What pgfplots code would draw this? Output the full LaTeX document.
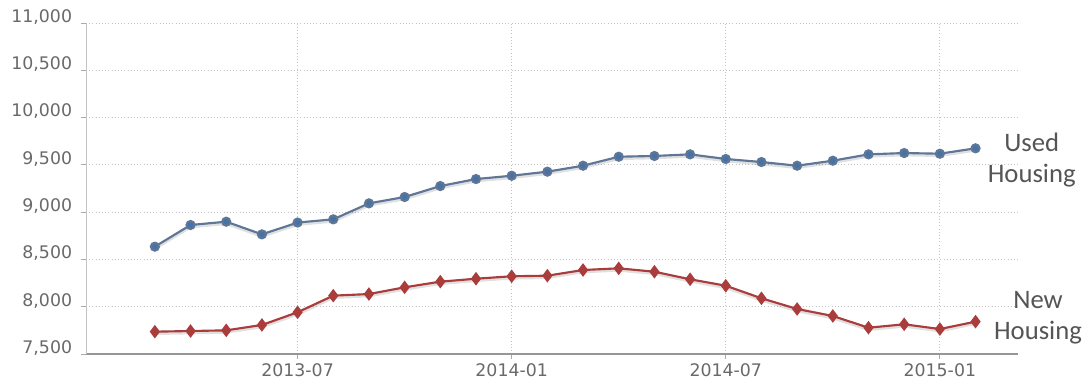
\documentclass[border=0pt]{standalone}
\usepackage{pgfplots}
\pgfplotsset{compat=1.18}
\usepackage{pgfplotstable}
\usepackage{fontspec}
\setmainfont{DejaVu Sans}
\newfontfamily\labelfont{Carlito}
\definecolor{usedblue}{RGB}{69,114,167}
\definecolor{usedline}{RGB}{95,118,150}
\definecolor{newred}{RGB}{170,60,60}
\definecolor{ticktext}{RGB}{105,105,105}
\definecolor{gridc}{RGB}{195,195,195}
\definecolor{labelgray}{RGB}{85,85,85}

\pgfplotstableread{
m v
2 8635
3 8864
4 8899
5 8765
6 8890
7 8924
8 9093
9 9160
10 9276
11 9350
12 9385
13 9428
14 9491
15 9586
16 9594
17 9611
18 9562
19 9530
20 9491
21 9544
22 9611
23 9625
24 9618
25 9675
}\usedtable

\pgfplotstableread{
m v
2 7736
3 7743
4 7750
5 7807
6 7941
7 8117
8 8134
9 8205
10 8265
11 8296
12 8322
13 8328
14 8388
15 8406
16 8370
17 8290
18 8222
19 8089
20 7976
21 7902
22 7778
23 7814
24 7764
25 7842
}\newtable

\begin{document}
\begin{tikzpicture}
\path[use as bounding box] (0,0) rectangle (817.5pt,284.25pt);
\begin{axis}[
  at={(64.5pt,18.75pt)}, anchor=south west,
  scale only axis,
  width=699pt, height=248.25pt,
  xmin=0.07, xmax=26.19,
  ymin=7500, ymax=11000,
  ytick={7500,8000,8500,9000,9500,10000,10500,11000},
  scaled y ticks=false,
  xtick={6,12,18,24},
  xticklabels={2013-07,2014-01,2014-07,2015-01},
  axis x line*=bottom,
  axis y line*=left,
  x axis line style={draw={rgb,255:red,150;green,150;blue,150}, line width=0.8pt},
  y axis line style={draw={rgb,255:red,195;green,195;blue,195}, line width=0.6pt},
  tick align=outside,
  major tick length=3.75pt,
  tick style={draw={rgb,255:red,170;green,170;blue,170}, line width=0.6pt},
  grid=major,
  major grid style={draw=gridc, dotted, line width=0.7pt},
  ticklabel style={font=\fontsize{13}{15}\selectfont, text=ticktext},
  yticklabel style={anchor=east, inner sep=0pt, xshift=-6.5pt, yshift=4.5pt,
    /pgf/number format/.cd, fixed, precision=0, 1000 sep={,}, assume math mode=true},
  xticklabel style={anchor=north, inner sep=0pt, yshift=-3.5pt},
]
\addplot[black, opacity=0.12, line width=3pt, no markers, yshift=-1pt, forget plot] table[x=m,y=v] {\usedtable};
\addplot[black, opacity=0.12, line width=3pt, no markers, yshift=-1pt, forget plot] table[x=m,y=v] {\newtable};
\addplot[usedline, line width=1.6pt, mark=*, mark size=3pt,
  mark options={fill=usedblue, draw=none}] table[x=m,y=v] {\usedtable};
\addplot[newred, line width=1.6pt, mark=diamond*, mark size=3.8pt,
  mark options={fill=newred, draw=none}] table[x=m,y=v] {\newtable};
\end{axis}
\node[font=\labelfont\fontsize{20}{23.25}\selectfont, text=labelgray, align=center] at (773.8pt,164.25pt) {Used\\Housing};
\node[font=\labelfont\fontsize{20}{23.25}\selectfont, text=labelgray, align=center] at (778.5pt,45.75pt) {New\\Housing};
\end{tikzpicture}
\end{document}
